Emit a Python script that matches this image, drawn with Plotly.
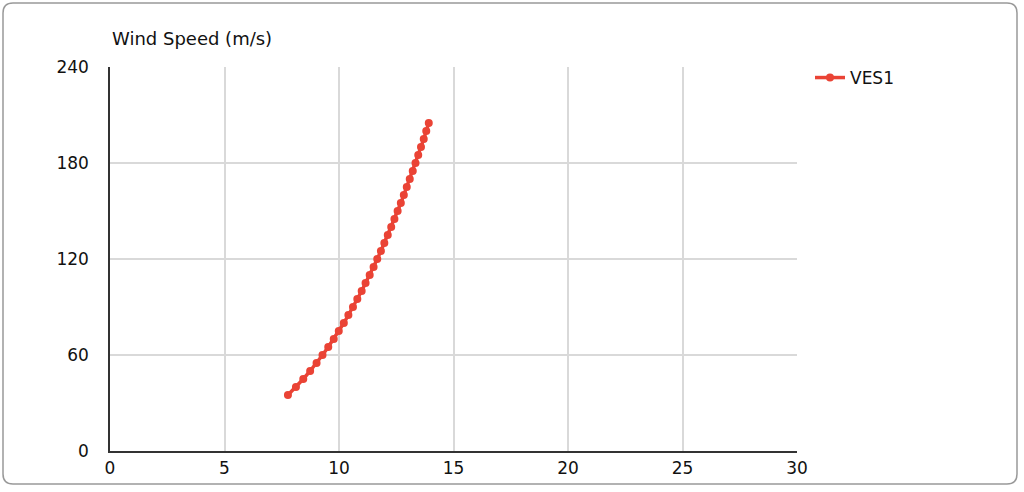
import plotly.graph_objects as go

# wind speed profile, VES1
series_name = 'VES1'
height_m = [35, 40, 45, 50, 55, 60, 65, 70, 75, 80, 85, 90, 95, 100, 105, 110, 115, 120,
            125, 130, 135, 140, 145, 150, 155, 160, 165, 170, 175, 180, 185, 190, 195, 200, 205]
wind_speed = [7.77, 8.12, 8.44, 8.74, 9.02, 9.28, 9.53, 9.77, 9.99, 10.21, 10.41, 10.61,
              10.80, 10.99, 11.16, 11.34, 11.51, 11.67, 11.83, 11.98, 12.13, 12.28, 12.42,
              12.56, 12.70, 12.83, 12.96, 13.09, 13.22, 13.34, 13.46, 13.58, 13.70, 13.81, 13.92]
x_ticks = [0, 5, 10, 15, 20, 25, 30]
y_ticks = [0, 60, 120, 180, 240]
y_title = 'Wind Speed (m/s)'

W, H = 1024, 492
ML, MR, MT, MB = 110, 227, 67, 41
PW, PH = W - ML - MR, H - MT - MB

def px(x):
    return (x - ML) / PW

def py(y):
    return (H - MB - y) / PH

# rounded frame around the whole chart
x0, x1, y0, y1, r = 3, 1017, 3, 484, 10
frame = (f'M {px(x0 + r)} {py(y0)} L {px(x1 - r)} {py(y0)} '
         f'Q {px(x1)} {py(y0)} {px(x1)} {py(y0 + r)} '
         f'L {px(x1)} {py(y1 - r)} Q {px(x1)} {py(y1)} {px(x1 - r)} {py(y1)} '
         f'L {px(x0 + r)} {py(y1)} Q {px(x0)} {py(y1)} {px(x0)} {py(y1 - r)} '
         f'L {px(x0)} {py(y0 + r)} Q {px(x0)} {py(y0)} {px(x0 + r)} {py(y0)} Z')

font_main = 'Verdana, DejaVu Sans, sans-serif'
red = '#ea4335'

fig = go.Figure()
fig.add_trace(go.Scatter(x=wind_speed, y=height_m, name=series_name,
                         mode='lines+markers',
                         line=dict(color=red, width=3.5),
                         marker=dict(color=red, size=8)))

fig.update_layout(
    width=W, height=H,
    margin=dict(l=ML, r=MR, t=MT, b=MB),
    paper_bgcolor='white', plot_bgcolor='white',
    font=dict(family=font_main, size=17, color='#111111'),
    showlegend=True,
    legend=dict(x=px(810), y=py(60), xanchor='left', yanchor='top',
                font=dict(size=17), bgcolor='rgba(0,0,0,0)'),
    shapes=[dict(type='path', xref='paper', yref='paper', path=frame,
                 line=dict(color='#999999', width=1.5), layer='below')],
    annotations=[dict(text=y_title, xref='paper', yref='paper',
                      x=0, y=py(38), xanchor='left', yanchor='middle',
                      showarrow=False, font=dict(size=18))],
)
fig.update_xaxes(range=[0, 30], tickvals=x_ticks, showgrid=True, gridcolor='#d9d9d9',
                 gridwidth=1.5, showline=True, linecolor='#333333', linewidth=1.5,
                 mirror=False, zeroline=False, ticks='', ticklabelstandoff=1)
fig.update_yaxes(range=[0, 240], tickvals=y_ticks, showgrid=True, gridcolor='#d9d9d9',
                 gridwidth=1.5, showline=True, linecolor='#333333', linewidth=1.5,
                 zeroline=False, ticks='', ticklabelstandoff=16)

# the page gets no body margin so the figure fills the window
fig.write_html("out.html", config={'displayModeBar': False},
               post_script="document.body.style.margin='0';")
